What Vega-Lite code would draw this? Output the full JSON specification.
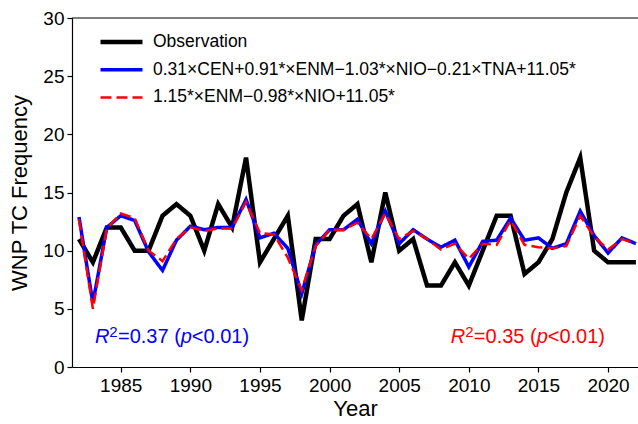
{
 "$schema": "https://vega.github.io/schema/vega-lite/v6.json",
 "width": 566, "height": 349,
 "autosize": "none",
 "padding": {"left": 72, "top": 18, "right": 0, "bottom": 57},
 "background": "white",
 "config": {
  "font": "Liberation Sans",
  "view": {"stroke": null},
  "axis": {"grid": false, "domainColor": "black", "domainWidth": 1.2, "tickColor": "black", "tickWidth": 1.2, "tickSize": 5, "labelColor": "black", "titleColor": "black", "labelFontSize": 19, "titleFontSize": 22, "titleFontWeight": "normal", "labelFont": "Liberation Sans", "titleFont": "Liberation Sans"}
 },
 "layer": [
  {
   "data": {"values": [
    {"Year": 1982, "Observation": 11, "Model1": 12.9, "Model2": 12.7},
    {"Year": 1983, "Observation": 9, "Model1": 5.5, "Model2": 5.0},
    {"Year": 1984, "Observation": 12, "Model1": 12.0, "Model2": 11.9},
    {"Year": 1985, "Observation": 12, "Model1": 13.0, "Model2": 13.2},
    {"Year": 1986, "Observation": 10, "Model1": 12.6, "Model2": 12.8},
    {"Year": 1987, "Observation": 10, "Model1": 9.9, "Model2": 10.0},
    {"Year": 1988, "Observation": 13, "Model1": 8.3, "Model2": 9.1},
    {"Year": 1989, "Observation": 14, "Model1": 10.9, "Model2": 11.0},
    {"Year": 1990, "Observation": 13, "Model1": 12.1, "Model2": 12.0},
    {"Year": 1991, "Observation": 10, "Model1": 11.8, "Model2": 11.7},
    {"Year": 1992, "Observation": 14, "Model1": 12.0, "Model2": 11.9},
    {"Year": 1993, "Observation": 12, "Model1": 12.0, "Model2": 11.9},
    {"Year": 1994, "Observation": 18, "Model1": 14.4, "Model2": 14.2},
    {"Year": 1995, "Observation": 9, "Model1": 11.1, "Model2": 11.5},
    {"Year": 1996, "Observation": 11, "Model1": 11.5, "Model2": 11.4},
    {"Year": 1997, "Observation": 13, "Model1": 10.2, "Model2": 9.4},
    {"Year": 1998, "Observation": 4, "Model1": 6.3, "Model2": 6.6},
    {"Year": 1999, "Observation": 11, "Model1": 10.5, "Model2": 10.4},
    {"Year": 2000, "Observation": 11, "Model1": 11.8, "Model2": 11.8},
    {"Year": 2001, "Observation": 13, "Model1": 11.8, "Model2": 11.8},
    {"Year": 2002, "Observation": 14, "Model1": 12.7, "Model2": 12.4},
    {"Year": 2003, "Observation": 9, "Model1": 10.6, "Model2": 11.0},
    {"Year": 2004, "Observation": 15, "Model1": 13.4, "Model2": 13.2},
    {"Year": 2005, "Observation": 10, "Model1": 10.6, "Model2": 11.0},
    {"Year": 2006, "Observation": 11, "Model1": 11.8, "Model2": 11.7},
    {"Year": 2007, "Observation": 7, "Model1": 11.0, "Model2": 11.0},
    {"Year": 2008, "Observation": 7, "Model1": 10.3, "Model2": 10.1},
    {"Year": 2009, "Observation": 9, "Model1": 10.9, "Model2": 10.6},
    {"Year": 2010, "Observation": 7, "Model1": 8.6, "Model2": 9.3},
    {"Year": 2011, "Observation": 10, "Model1": 10.8, "Model2": 10.6},
    {"Year": 2012, "Observation": 13, "Model1": 10.9, "Model2": 10.5},
    {"Year": 2013, "Observation": 13, "Model1": 12.8, "Model2": 12.6},
    {"Year": 2014, "Observation": 8, "Model1": 10.9, "Model2": 10.5},
    {"Year": 2015, "Observation": 9, "Model1": 11.1, "Model2": 10.3},
    {"Year": 2016, "Observation": 11, "Model1": 10.2, "Model2": 10.2},
    {"Year": 2017, "Observation": 15, "Model1": 10.6, "Model2": 10.4},
    {"Year": 2018, "Observation": 18, "Model1": 13.4, "Model2": 13.0},
    {"Year": 2019, "Observation": 10, "Model1": 11.3, "Model2": 11.2},
    {"Year": 2020, "Observation": 9, "Model1": 9.8, "Model2": 10.1},
    {"Year": 2021, "Observation": 9, "Model1": 11.1, "Model2": 11.0},
    {"Year": 2022, "Observation": 9, "Model1": 10.6, "Model2": 10.6}
   ]},
   "transform": [{"fold": ["Observation", "Model1", "Model2"], "as": ["series", "value"]}],
   "mark": {"type": "line", "clip": true},
   "encoding": {
    "x": {"field": "Year", "type": "quantitative", "scale": {"domain": [1981.5, 2022.15], "nice": false, "zero": false},
          "axis": {"values": [1985, 1990, 1995, 2000, 2005, 2010, 2015, 2020], "format": "d", "title": "Year", "labelPadding": 4, "titlePadding": 3}},
    "y": {"field": "value", "type": "quantitative", "scale": {"domain": [0, 30], "nice": false},
          "axis": {"values": [0, 5, 10, 15, 20, 25, 30], "title": "WNP TC Frequency", "labelPadding": 3, "titlePadding": 11}},
    "color": {"field": "series", "type": "nominal", "sort": ["Observation", "Model1", "Model2"],
              "scale": {"domain": ["Observation", "Model1", "Model2"], "range": ["#000000", "#0000ff", "#ff0000"]},
              "legend": {"orient": "none", "legendX": 26, "legendY": 14, "title": null, "symbolType": "stroke", "symbolSize": 1764, "labelFontSize": 17.5, "labelFont": "Liberation Sans", "labelColor": "black", "labelOffset": 8, "padding": 0, "labelLimit": 600, "clipHeight": 20, "rowPadding": 7.7,
                         "labelExpr": "datum.value == 'Observation' ? 'Observation' : datum.value == 'Model1' ? '0.31×CEN+0.91*×ENM−1.03*×NIO−0.21×TNA+11.05*' : '1.15*×ENM−0.98*×NIO+11.05*'"}},
    "strokeDash": {"field": "series", "type": "nominal", "sort": ["Observation", "Model1", "Model2"],
                   "scale": {"domain": ["Observation", "Model1", "Model2"], "range": [[1, 0], [1, 0], [11, 5]]}},
    "strokeWidth": {"field": "series", "type": "nominal", "sort": ["Observation", "Model1", "Model2"],
                    "scale": {"domain": ["Observation", "Model1", "Model2"], "range": [4.5, 2.5, 3]}}
   }
  },
  {"data": {"values": [{}]}, "mark": {"type": "rule", "color": "black", "strokeWidth": 1.2}, "encoding": {"y": {"datum": 30}}},
  {"data": {"values": [{}]}, "mark": {"type": "text", "text": "R", "fontStyle": "italic", "fontSize": 20, "color": "#0000ff", "align": "left", "baseline": "alphabetic"}, "encoding": {"x": {"datum": 1983.15}, "y": {"datum": 2.06}}},
  {"data": {"values": [{}]}, "mark": {"type": "text", "text": "2", "fontSize": 15, "dx": 14.4, "dy": -6, "color": "#0000ff", "align": "left", "baseline": "alphabetic"}, "encoding": {"x": {"datum": 1983.15}, "y": {"datum": 2.06}}},
  {"data": {"values": [{}]}, "mark": {"type": "text", "text": "=0.37 (", "fontSize": 20, "dx": 23, "color": "#0000ff", "align": "left", "baseline": "alphabetic"}, "encoding": {"x": {"datum": 1983.15}, "y": {"datum": 2.06}}},
  {"data": {"values": [{}]}, "mark": {"type": "text", "text": "p", "fontStyle": "italic", "fontSize": 20, "dx": 85.8, "color": "#0000ff", "align": "left", "baseline": "alphabetic"}, "encoding": {"x": {"datum": 1983.15}, "y": {"datum": 2.06}}},
  {"data": {"values": [{}]}, "mark": {"type": "text", "text": "<0.01)", "fontSize": 20, "dx": 96.9, "color": "#0000ff", "align": "left", "baseline": "alphabetic"}, "encoding": {"x": {"datum": 1983.15}, "y": {"datum": 2.06}}},
  {"data": {"values": [{}]}, "mark": {"type": "text", "text": "R", "fontStyle": "italic", "fontSize": 20, "color": "#ff0000", "align": "left", "baseline": "alphabetic"}, "encoding": {"x": {"datum": 2008.71}, "y": {"datum": 2.06}}},
  {"data": {"values": [{}]}, "mark": {"type": "text", "text": "2", "fontSize": 15, "dx": 14.4, "dy": -6, "color": "#ff0000", "align": "left", "baseline": "alphabetic"}, "encoding": {"x": {"datum": 2008.71}, "y": {"datum": 2.06}}},
  {"data": {"values": [{}]}, "mark": {"type": "text", "text": "=0.35 (", "fontSize": 20, "dx": 23, "color": "#ff0000", "align": "left", "baseline": "alphabetic"}, "encoding": {"x": {"datum": 2008.71}, "y": {"datum": 2.06}}},
  {"data": {"values": [{}]}, "mark": {"type": "text", "text": "p", "fontStyle": "italic", "fontSize": 20, "dx": 85.8, "color": "#ff0000", "align": "left", "baseline": "alphabetic"}, "encoding": {"x": {"datum": 2008.71}, "y": {"datum": 2.06}}},
  {"data": {"values": [{}]}, "mark": {"type": "text", "text": "<0.01)", "fontSize": 20, "dx": 96.9, "color": "#ff0000", "align": "left", "baseline": "alphabetic"}, "encoding": {"x": {"datum": 2008.71}, "y": {"datum": 2.06}}}
 ]
}
